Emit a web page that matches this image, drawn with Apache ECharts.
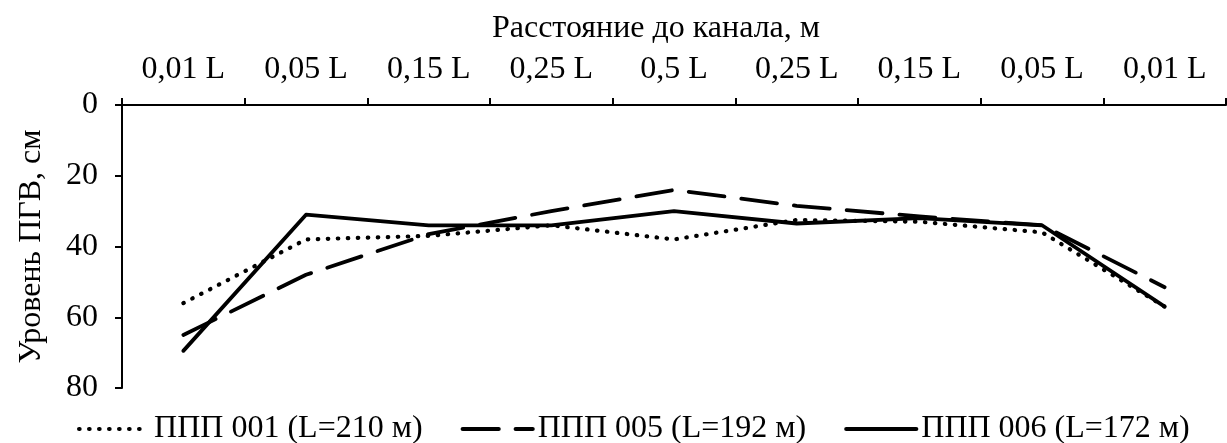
<!DOCTYPE html>
<html>
<head>
<meta charset="utf-8">
<script src="https://cdn.jsdelivr.net/npm/echarts@6/dist/echarts.min.js"></script>
<style>
html,body{margin:0;padding:0;background:#fff;}
#c{width:1227px;height:443px;}
</style>
</head>
<body>
<div id="c"></div>
<script>
const categories = ['0,01 L','0,05 L','0,15 L','0,25 L','0,5 L','0,25 L','0,15 L','0,05 L','0,01 L'];
const seriesNames = ['ППП 001 (L=210 м)','ППП 005 (L=192 м)','ППП 006 (L=172 м)'];
const ppp001 = [56, 38, 37, 34, 38, 32.5, 33, 36, 57];
const ppp005 = [65, 48, 36.5, 30, 24, 28.5, 31.5, 34, 51.5];
const ppp006 = [69.5, 31, 34, 34, 30, 33.5, 32, 34, 57];
const yTicks = {min: 0, max: 80, interval: 20};
const xAxisTitle = 'Расстояние до канала, м';
const yAxisTitle = 'Уровень ПГВ, см';

const FONT = '"Liberation Serif", "Times New Roman", serif';
const FS = 32;
const chart = echarts.init(document.getElementById('c'), null, {renderer: 'canvas'});
const mk = (name, data, type, width) => ({
  name, type: 'line', data, showSymbol: false, symbol: 'none', smooth: false,
  lineStyle: {color: '#000', width, type, cap: 'round', join: 'round'},
  itemStyle: {color: '#000'},
  emphasis: {disabled: true}, animation: false
});
chart.setOption({
  animation: false,
  backgroundColor: '#fff',
  textStyle: {fontFamily: FONT, color: '#000'},
  grid: {left: 122, right: 1, top: 105, bottom: 55, containLabel: false},
  legend: {
    top: 408, left: 72, itemGap: 38, itemWidth: 70, itemHeight: 12,
    itemStyle: {opacity: 0},
    lineStyle: {width: 4.2, cap: 'round'},
    textStyle: {fontFamily: FONT, fontSize: FS, color: '#000'},
    data: seriesNames
  },
  xAxis: {
    type: 'category', position: 'top', data: categories, boundaryGap: true,
    name: xAxisTitle, nameLocation: 'middle', nameGap: 60,
    nameTextStyle: {fontFamily: FONT, fontSize: FS, color: '#000', padding: [0, 36, 0, 0]},
    axisLine: {show: true, onZero: false, lineStyle: {color: '#000', width: 2}},
    axisTick: {show: true, inside: false, length: 7, alignWithLabel: false, lineStyle: {color: '#000', width: 2}},
    axisLabel: {fontFamily: FONT, fontSize: FS, color: '#000', margin: 19, interval: 0},
    splitLine: {show: false}
  },
  yAxis: {
    type: 'value', inverse: true, min: yTicks.min, max: yTicks.max, interval: yTicks.interval,
    name: yAxisTitle, nameLocation: 'middle', nameGap: 74, nameRotate: 90,
    nameTextStyle: {fontFamily: FONT, fontSize: FS, color: '#000'},
    axisLine: {show: true, onZero: false, lineStyle: {color: '#000', width: 2}},
    axisTick: {show: true, inside: false, length: 7, lineStyle: {color: '#000', width: 2}},
    axisLabel: {fontFamily: FONT, fontSize: FS, color: '#000', margin: 24},
    splitLine: {show: false}
  },
  series: [
    mk(seriesNames[0], ppp001, [0.5, 9.5], 4.2),
    mk(seriesNames[1], ppp005, [36, 17], 3.8),
    mk(seriesNames[2], ppp006, 'solid', 3.8)
  ]
});
</script>
</body>
</html>
